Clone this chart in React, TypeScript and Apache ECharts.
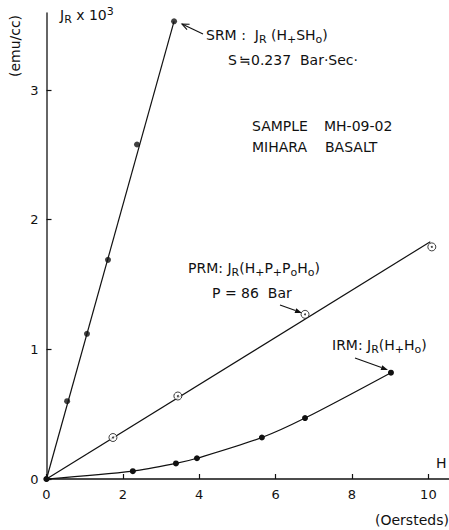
import React, { useEffect, useRef } from 'react';
import * as echarts from 'echarts';

// SRM: J_R(H+SH0), filled dots
const srmH = [0, 0.54, 1.06, 1.61, 2.37, 3.34];
const srmJ = [0, 0.60, 1.12, 1.69, 2.58, 3.53];
const srmFitH = [0, 3.34];
const srmFitJ = [0, 3.53];
// PRM: J_R(H+P+P0H0), circled dots
const prmH = [1.74, 3.44, 6.77, 10.09];
const prmJ = [0.32, 0.64, 1.27, 1.79];
const prmFitH = [0, 10.05];
const prmFitJ = [0, 1.83];
// IRM: J_R(H+H0), filled dots on a curve
const irmH = [0, 2.26, 3.39, 3.94, 5.64, 6.77, 9.02];
const irmJ = [0, 0.06, 0.12, 0.16, 0.32, 0.47, 0.82];

const xTicks = [0, 2, 4, 6, 8, 10];
const yTicks = [0, 1, 2, 3];

const FONT = 'DejaVu Sans';
const INK = '#111';
const FS = 14;

const zip = (a: number[], b: number[]) => a.map((v, i) => [v, b[i]]);

function arrow(tx: number, ty: number, hx: number, hy: number, filled: boolean) {
  const dx = hx - tx, dy = hy - ty;
  const len = Math.sqrt(dx * dx + dy * dy);
  const ux = dx / len, uy = dy / len;
  const hl = 7, hw = filled ? 2.5 : 3;
  const bx = hx - ux * hl, by = hy - uy * hl;
  const p1 = [bx - uy * hw, by + ux * hw];
  const p2 = [bx + uy * hw, by - ux * hw];
  const els: any[] = [
    { type: 'line', shape: { x1: tx, y1: ty, x2: filled ? bx : hx, y2: filled ? by : hy }, style: { stroke: INK, lineWidth: 1.1 } },
  ];
  if (filled) {
    els.push({ type: 'polygon', shape: { points: [[hx, hy], p1, p2] }, style: { fill: INK } });
  } else {
    els.push({ type: 'polyline', shape: { points: [p1, [hx, hy], p2] }, style: { stroke: INK, lineWidth: 1.1, fill: null } });
  }
  return els;
}

const rich = {
  n: { fontSize: FS, lineHeight: 19, fontFamily: FONT, color: INK },
  s: { fontSize: 11, lineHeight: 11, verticalAlign: 'bottom', fontFamily: FONT, color: INK },
  p: { fontSize: 11, lineHeight: 11, verticalAlign: 'top', fontFamily: FONT, color: INK },
};

function rt(x: number, y: number, text: string) {
  return {
    type: 'text', x, y,
    style: { text, rich, fontFamily: FONT, fontSize: FS, fill: INK, align: 'left', verticalAlign: 'middle' },
  };
}

function pt(x: number, y: number, text: string) {
  return {
    type: 'text', x, y,
    style: { text, fontFamily: FONT, fontSize: FS, fill: INK, align: 'left', verticalAlign: 'middle' },
  };
}

export default function App() {
  const ref = useRef<HTMLDivElement>(null);
  useEffect(() => {
    document.body.style.margin = '0';
    const chart = echarts.init(ref.current!, null, { renderer: 'svg' });
    const lineStyle = { color: INK, width: 1.2 };
    chart.setOption({
      animation: false,
      backgroundColor: '#fff',
      grid: { left: 46.5, right: 0, top: 13, bottom: 51, outerBoundsMode: 'none', containLabel: false },
      xAxis: {
        type: 'value', min: 0, max: 10.54, interval: 2,
        axisLine: { lineStyle: { color: INK, width: 1.5 } },
        axisTick: { inside: true, length: 5, lineStyle: { color: INK, width: 1.2 }, customValues: xTicks },
        axisLabel: { customValues: xTicks, margin: 9, fontSize: 13, fontFamily: FONT, color: INK },
        splitLine: { show: false },
      },
      yAxis: {
        type: 'value', min: 0, max: 3.594, interval: 1,
        axisLine: { lineStyle: { color: '#333', width: 1.5 } },
        axisTick: { inside: true, length: 5, lineStyle: { color: INK, width: 1.2 }, customValues: yTicks },
        axisLabel: { customValues: yTicks, margin: 8, fontSize: 13, fontFamily: FONT, color: INK },
        splitLine: { show: false },
      },
      series: [
        { name: 'SRM fit', type: 'line', data: zip(srmFitH, srmFitJ), showSymbol: false, symbol: 'none', lineStyle },
        { name: 'SRM', type: 'scatter', data: zip(srmH, srmJ), symbol: 'circle', symbolSize: 6, itemStyle: { color: INK } },
        { name: 'PRM fit', type: 'line', data: zip(prmFitH, prmFitJ), showSymbol: false, symbol: 'none', lineStyle },
        { name: 'PRM', type: 'scatter', data: zip(prmH, prmJ), symbol: 'circle', symbolSize: 8, itemStyle: { color: '#fff', borderColor: INK, borderWidth: 1 }, z: 3 },
        { name: 'PRM c', type: 'scatter', data: zip(prmH, prmJ), symbol: 'circle', symbolSize: 2, itemStyle: { color: INK }, z: 4 },
        { name: 'IRM', type: 'line', data: zip(irmH, irmJ), smooth: 0.3, symbol: 'circle', symbolSize: 6, showSymbol: true, itemStyle: { color: INK }, lineStyle },
      ],
      graphic: [
        {
          type: 'text', x: 15, y: 46, rotation: Math.PI / 2,
          style: { text: '(emu/cc)', fontFamily: FONT, fontSize: 14, fill: INK, align: 'center', verticalAlign: 'middle' },
        },
        rt(60, 15, '{n|J}{s|R}{n| x 10}{p|3}'),
        rt(206, 35, '{n|SRM :  J}{s|R}{n| (H}{s|+}{n|SH}{s|o}{n|)}'),
        pt(228, 60, 'S'),
        pt(239, 60, '≒'),
        pt(251, 60, '0.237  Bar·Sec·'),
        pt(252, 126, 'SAMPLE'),
        pt(324, 126, 'MH-09-02'),
        pt(252, 147, 'MIHARA'),
        pt(325, 147, 'BASALT'),
        rt(188, 268, '{n|PRM: J}{s|R}{n|(H}{s|+}{n|P}{s|+}{n|P}{s|o}{n|H}{s|o}{n|)}'),
        pt(212, 293, 'P = 86  Bar'),
        rt(332, 345, '{n|IRM: J}{s|R}{n|(H}{s|+}{n|H}{s|o}{n|)}'),
        pt(436, 463, 'H'),
        pt(375, 520, '(Oersteds)'),
        ...arrow(203, 34, 182, 24, false),
        ...arrow(280, 305, 302, 313, true),
        ...arrow(355, 358, 388, 370, true),
      ],
    });
    return () => chart.dispose();
  }, []);
  return <div ref={ref} style={{ position: 'absolute', left: 0, top: 0, width: 449, height: 530 }} />;
}
